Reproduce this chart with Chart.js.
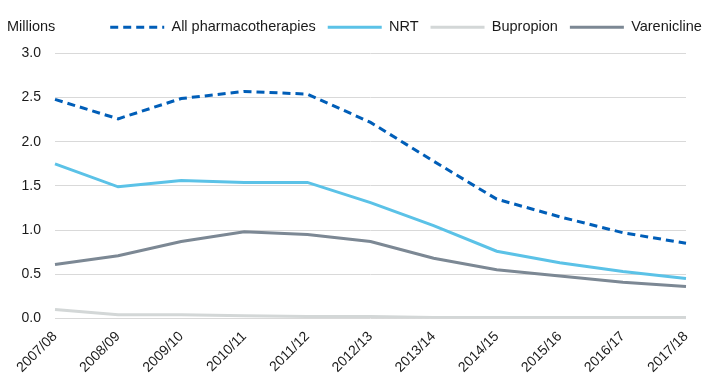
<!DOCTYPE html>
<html>
<head>
<meta charset="utf-8">
<script src="https://cdn.jsdelivr.net/npm/chart.js@4/dist/chart.umd.min.js"></script>
<style>
html,body{margin:0;padding:0;background:#fff;}
#wrap{width:710px;height:383px;position:relative;}
</style>
</head>
<body>
<div id="wrap"><canvas id="c" width="710" height="383"></canvas></div>
<script>
const categories = ["2007/08","2008/09","2009/10","2010/11","2011/12","2012/13","2013/14","2014/15","2015/16","2016/17","2017/18"];
const allPharma = [2.48,2.26,2.49,2.57,2.54,2.22,1.78,1.35,1.15,0.97,0.85];
const nrt = [1.75,1.49,1.56,1.54,1.54,1.31,1.05,0.76,0.63,0.53,0.45];
const bupropion = [0.10,0.04,0.04,0.03,0.02,0.02,0.01,0.01,0.01,0.01,0.01];
const varenicline = [0.61,0.71,0.87,0.98,0.95,0.87,0.68,0.55,0.48,0.41,0.36];
const yTicks = [0,0.5,1.0,1.5,2.0,2.5,3.0];

const FONT = "'Liberation Sans', Arial, sans-serif";

const millionsPlugin = {
  id: 'millions',
  afterLayout(chart) {
    const lg = chart.legend;
    if (lg) { lg.left += 63; lg.right += 63; lg.top -= 9; lg.bottom -= 9; }
  },
  afterDraw(chart) {
    const ctx = chart.ctx;
    ctx.save();
    ctx.font = "14.5px " + FONT;
    ctx.fillStyle = "#1a1a1a";
    ctx.textBaseline = "middle";
    ctx.textAlign = "left";
    ctx.fillText("Millions", 7, 27);
    ctx.restore();
  }
};

new Chart(document.getElementById('c'), {
  type: 'line',
  data: {
    labels: categories,
    datasets: [
      {label: 'All pharmacotherapies', data: allPharma, borderColor: '#005EB8', backgroundColor: '#005EB8', borderWidth: 3, borderDash: [8,5], pointRadius: 0, tension: 0},
      {label: 'NRT', data: nrt, borderColor: '#5BC2E7', backgroundColor: '#5BC2E7', borderWidth: 3, pointRadius: 0, tension: 0},
      {label: 'Bupropion', data: bupropion, borderColor: '#D3D7D7', backgroundColor: '#D3D7D7', borderWidth: 3, pointRadius: 0, tension: 0},
      {label: 'Varenicline', data: varenicline, borderColor: '#7C8894', backgroundColor: '#7C8894', borderWidth: 3, pointRadius: 0, tension: 0}
    ]
  },
  options: {
    responsive: false,
    animation: false,
    devicePixelRatio: 1,
    layout: {padding: {left: 0, right: 24, top: 17, bottom: 5}},
    plugins: {
      legend: {
        position: 'top',
        align: 'center',
        labels: {
          usePointStyle: true,
          pointStyle: 'line',
          pointStyleWidth: 54,
          boxHeight: 14,
          padding: 12,
          color: '#1a1a1a',
          font: {family: FONT, size: 14.5},
          generateLabels(chart) {
            const items = Chart.defaults.plugins.legend.labels.generateLabels(chart);
            items.forEach(it => {
              const ds = chart.data.datasets[it.datasetIndex];
              it.lineWidth = 3;
              it.strokeStyle = ds.borderColor;
              it.lineDash = ds.borderDash || [];
              it.lineCap = 'butt';
              it.pointStyle = 'line';
            });
            return items;
          }
        }
      },
      tooltip: {enabled: false}
    },
    scales: {
      x: {
        grid: {display: false},
        border: {display: false},
        offset: false,
        ticks: {
          color: '#1a1a1a',
          font: {family: FONT, size: 14},
          maxRotation: 45,
          minRotation: 45,
          autoSkip: false,
          padding: 2
        }
      },
      y: {
        min: 0,
        max: 3,
        afterBuildTicks(scale) { scale.ticks = yTicks.map(v => ({value: v})); },
        afterFit(scale) { scale.width = 55; },
        grid: {color: '#D9D9D9', lineWidth: 1, drawTicks: false},
        border: {display: false},
        ticks: {
          color: '#1a1a1a',
          font: {family: FONT, size: 14},
          padding: 14,
          callback: v => Number(v).toFixed(1)
        }
      }
    }
  },
  plugins: [millionsPlugin]
});
</script>
</body>
</html>
